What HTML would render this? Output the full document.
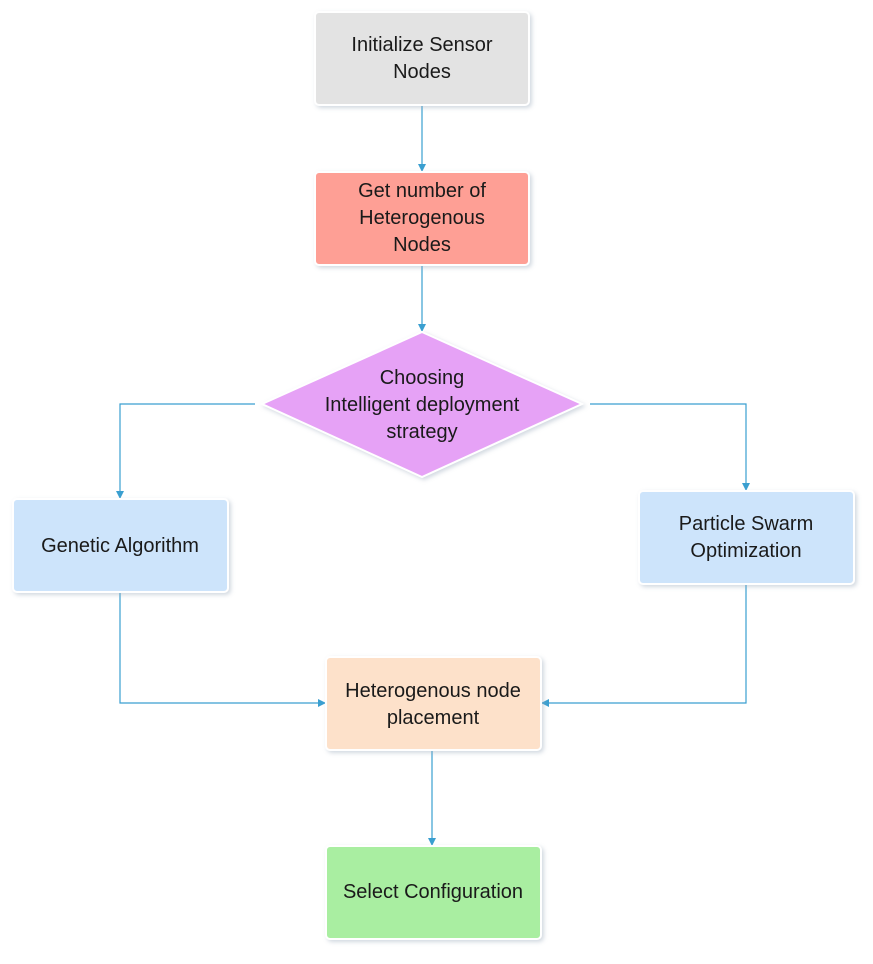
<!DOCTYPE html>
<html><head><meta charset="utf-8"><style>
body{margin:0;background:#fff;width:873px;height:959px;overflow:hidden}
text{font-family:"Liberation Sans",sans-serif;font-size:20px;fill:#1a1a1a;text-anchor:middle}
</style></head><body>
<svg width="873" height="959" xmlns="http://www.w3.org/2000/svg">
<defs>
<filter id="s" x="-10%" y="-10%" width="130%" height="130%"><feDropShadow dx="2" dy="2" stdDeviation="2" flood-color="#9ab" flood-opacity="0.45"/></filter>
<marker id="a" markerWidth="8" markerHeight="8" refX="7" refY="4" orient="auto" markerUnits="userSpaceOnUse"><path d="M0,0 L8,4 L0,8z" fill="#3a9fd0"/></marker>
</defs>
<g stroke="#3a9fd0" stroke-width="1.2" fill="none" marker-end="url(#a)">
<path d="M422,105 V171"/>
<path d="M422,265 V331"/>
<path d="M255,404 H120 V498"/>
<path d="M590,404 H746 V490"/>
<path d="M120,592 V703 H325"/>
<path d="M746,584 V703 H542"/>
<path d="M432,750 V845"/>
</g>
<g stroke="#fff" stroke-width="2" filter="url(#s)">
<rect x="315" y="12" width="214" height="93" rx="4" fill="#e3e3e3"/>
<rect x="315" y="172" width="214" height="93" rx="4" fill="#fe9f95"/>
<polygon points="422,332 582,404 422,477 262,404" fill="#e6a2f6"/>
<rect x="13" y="499" width="215" height="93" rx="4" fill="#cde4fb"/>
<rect x="639" y="491" width="215" height="93" rx="4" fill="#cde4fb"/>
<rect x="326" y="657" width="215" height="93" rx="4" fill="#fde1ca"/>
<rect x="326" y="846" width="215" height="93" rx="4" fill="#a9eea1"/>
</g>
<text x="422" y="51">Initialize Sensor</text>
<text x="422" y="78">Nodes</text>
<text x="422" y="197">Get number of</text>
<text x="422" y="224">Heterogenous</text>
<text x="422" y="251">Nodes</text>
<text x="422" y="384">Choosing</text>
<text x="422" y="411">Intelligent deployment</text>
<text x="422" y="438">strategy</text>
<text x="120" y="552">Genetic Algorithm</text>
<text x="746" y="530">Particle Swarm</text>
<text x="746" y="557">Optimization</text>
<text x="433" y="697">Heterogenous node</text>
<text x="433" y="724">placement</text>
<text x="433" y="898">Select Configuration</text>
</svg>
</body></html>
